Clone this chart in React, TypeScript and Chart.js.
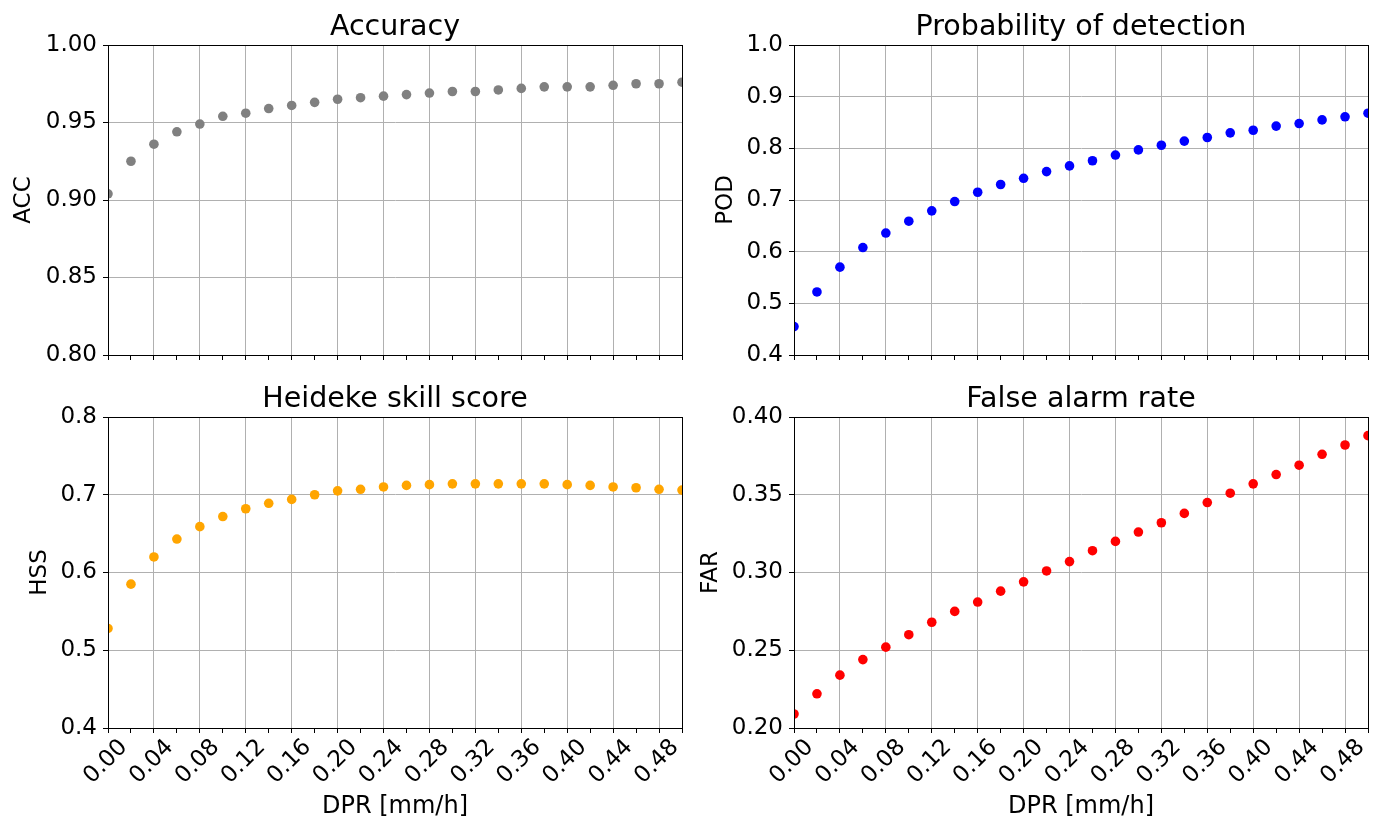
import React, { useEffect, useRef } from 'react';
import { Chart, registerables } from 'chart.js';

Chart.register(...registerables);

const FONT = "'DejaVu Sans', 'Liberation Sans', sans-serif";
Chart.defaults.font.family = FONT;

// ---- data ----
const dprValues = [
  0.0, 0.02, 0.04, 0.06, 0.08, 0.1, 0.12, 0.14, 0.16, 0.18, 0.2, 0.22, 0.24,
  0.26, 0.28, 0.3, 0.32, 0.34, 0.36, 0.38, 0.4, 0.42, 0.44, 0.46, 0.48, 0.5,
];
const accValues = [
  0.904, 0.925, 0.936, 0.944, 0.949, 0.954, 0.956, 0.959, 0.961, 0.963, 0.965,
  0.966, 0.967, 0.968, 0.969, 0.97, 0.97, 0.971, 0.972, 0.973, 0.973, 0.973,
  0.974, 0.975, 0.975, 0.976,
];
const podValues = [
  0.455, 0.522, 0.57, 0.608, 0.636, 0.659, 0.679, 0.697, 0.715, 0.73, 0.742,
  0.755, 0.766, 0.776, 0.787, 0.797, 0.806, 0.814, 0.821, 0.83, 0.835, 0.843,
  0.848, 0.855, 0.861, 0.868,
];
const hssValues = [
  0.528, 0.585, 0.62, 0.643, 0.659, 0.672, 0.682, 0.689, 0.694, 0.7, 0.705,
  0.707, 0.71, 0.712, 0.713, 0.714, 0.714, 0.714, 0.714, 0.714, 0.713, 0.712,
  0.71, 0.709, 0.707, 0.706,
];
const farValues = [
  0.209, 0.222, 0.234, 0.244, 0.252, 0.26, 0.268, 0.275, 0.281, 0.288, 0.294,
  0.301, 0.307, 0.314, 0.32, 0.326, 0.332, 0.338, 0.345, 0.351, 0.357, 0.363,
  0.369, 0.376, 0.382, 0.388,
];
const xTickLabels = [
  '0.00', '0.04', '0.08', '0.12', '0.16', '0.20', '0.24', '0.28', '0.32',
  '0.36', '0.40', '0.44', '0.48',
];
const accTicks = [0.8, 0.85, 0.9, 0.95, 1.0];
const podTicks = [0.4, 0.5, 0.6, 0.7, 0.8, 0.9, 1.0];
const hssTicks = [0.4, 0.5, 0.6, 0.7, 0.8];
const farTicks = [0.2, 0.25, 0.3, 0.35, 0.4];
const xLabel = 'DPR [mm/h]';

const GRID = '#b0b0b0';

type Panel = {
  title: string;
  yLabel: string;
  values: number[];
  color: string;
  yTicks: number[];
  decimals: number;
  showX: boolean;
  left: number;
  top: number;
  width: number;
  height: number;
  areaL: number;
  areaR: number;
  areaT: number;
  areaB: number;
  padLeft: number;
};

const panels: Panel[] = [
  {
    title: 'Accuracy', yLabel: 'ACC', values: accValues, color: '#808080',
    yTicks: accTicks, decimals: 2, showX: false,
    left: 0, top: 0, width: 690, height: 380,
    areaL: 108, areaR: 682, areaT: 45, areaB: 355, padLeft: 10,
  },
  {
    title: 'Probability of detection', yLabel: 'POD', values: podValues, color: '#0000ff',
    yTicks: podTicks, decimals: 1, showX: false,
    left: 690, top: 0, width: 690, height: 380,
    areaL: 104, areaR: 678, areaT: 45, areaB: 355, padLeft: 22,
  },
  {
    title: 'Heideke skill score', yLabel: 'HSS', values: hssValues, color: '#ffa500',
    yTicks: hssTicks, decimals: 1, showX: true,
    left: 0, top: 365, width: 690, height: 457,
    areaL: 108, areaR: 682, areaT: 52, areaB: 363, padLeft: 26,
  },
  {
    title: 'False alarm rate', yLabel: 'FAR', values: farValues, color: '#ff0000',
    yTicks: farTicks, decimals: 2, showX: true,
    left: 690, top: 365, width: 690, height: 457,
    areaL: 104, areaR: 678, areaT: 52, areaB: 363, padLeft: 7,
  },
];

function decorPlugin(title: string) {
  return {
    id: 'panelDecor',
    afterDatasetsDraw(chart: any) {
      const { ctx, chartArea: a } = chart;
      ctx.save();
      ctx.strokeStyle = '#000';
      ctx.lineWidth = 1;
      const l = Math.round(a.left) + 0.5;
      const t = Math.round(a.top) + 0.5;
      const r = Math.round(a.right) + 0.5;
      const b = Math.round(a.bottom) + 0.5;
      ctx.strokeRect(l, t, r - l, b - t);
      ctx.restore();
    },
    afterDraw(chart: any) {
      const { ctx, chartArea: a } = chart;
      ctx.save();
      ctx.font = `28.5px ${FONT}`;
      ctx.fillStyle = '#000';
      ctx.textAlign = 'center';
      ctx.textBaseline = 'alphabetic';
      ctx.fillText(title, (a.left + a.right) / 2, a.top - 10);
      ctx.restore();
    },
  };
}

function isMajorX(v: number) {
  return xTickLabels.includes(Number(v).toFixed(2));
}

function PanelChart({ p }: { p: Panel }) {
  const ref = useRef<HTMLCanvasElement | null>(null);
  useEffect(() => {
    if (!ref.current) return;
    const yMin = p.yTicks[0];
    const yMax = p.yTicks[p.yTicks.length - 1];
    const yStep = Math.round((p.yTicks[1] - p.yTicks[0]) * 1000) / 1000;
    const chart = new Chart(ref.current, {
      type: 'scatter',
      data: {
        datasets: [
          {
            data: dprValues.map((x, i) => ({ x, y: p.values[i] })),
            backgroundColor: p.color,
            borderColor: p.color,
            pointRadius: 4.8,
            pointBorderWidth: 0,
            pointHoverRadius: 4.8,
            clip: 0,
          } as any,
        ],
      },
      options: {
        animation: false,
        responsive: false,
        devicePixelRatio: 1,
        events: [],
        layout: {
          padding: {
            left: p.padLeft,
            right: p.width - p.areaR,
            top: p.areaT,
            bottom: 0,
          },
        },
        plugins: {
          legend: { display: false },
          tooltip: { enabled: false },
          title: { display: false },
        },
        scales: {
          x: {
            type: 'linear',
            min: 0,
            max: 0.5,
            afterFit: (s: any) => {
              s.height = p.height - p.areaB;
              s.paddingLeft = 0;
              s.paddingRight = 0;
              s.paddingTop = 0;
              s.paddingBottom = 0;
            },
            grid: {
              color: (c: any) => (c.tick && isMajorX(c.tick.value) ? GRID : 'rgba(0,0,0,0)'),
              lineWidth: 1,
              tickColor: '#000',
              tickLength: 5,
              drawTicks: true,
            },
            border: { display: true, color: '#000', width: 1 },
            ticks: {
              stepSize: 0.02,
              maxTicksLimit: 100,
              autoSkip: false,
              minRotation: p.showX ? 45 : 0,
              maxRotation: p.showX ? 45 : 0,
              padding: 1,
              labelOffset: 16,
              color: '#000',
              font: { size: 23, family: FONT },
              callback: (v: any) => {
                if (!p.showX) return '';
                const s = Number(v).toFixed(2);
                return xTickLabels.includes(s) ? s : '';
              },
            },
            title: {
              display: p.showX,
              text: xLabel,
              color: '#000',
              font: { size: 24, family: FONT, lineHeight: 1.2 },
              padding: { top: 0, bottom: 1 },
            },
          },
          y: {
            type: 'linear',
            min: yMin,
            max: yMax,
            afterFit: (s: any) => {
              s.width = p.areaL - p.padLeft;
              s.paddingLeft = 0;
              s.paddingRight = 0;
              s.paddingTop = 0;
              s.paddingBottom = 0;
            },
            grid: {
              color: GRID,
              lineWidth: 1,
              tickColor: '#000',
              tickLength: 5,
            },
            border: { display: true, color: '#000', width: 1 },
            ticks: {
              stepSize: yStep,
              autoSkip: false,
              padding: 6,
              color: '#000',
              font: { size: 23, family: FONT },
              callback: (v: any) => Number(v).toFixed(p.decimals),
            },
            title: {
              display: true,
              text: p.yLabel,
              color: '#000',
              font: { size: 23, family: FONT, lineHeight: 1.2 },
              padding: 0,
            },
          },
        },
      } as any,
      plugins: [decorPlugin(p.title)],
    });
    return () => chart.destroy();
  }, [p]);
  return (
    <div
      style={{
        position: 'absolute',
        left: p.left,
        top: p.top,
        width: p.width,
        height: p.height,
      }}
    >
      <canvas
        ref={ref}
        width={p.width}
        height={p.height}
        style={{ width: p.width, height: p.height, display: 'block' }}
      />
    </div>
  );
}

export default function App() {
  return (
    <div
      style={{
        position: 'absolute',
        left: 0,
        top: 0,
        width: 1380,
        height: 822,
        background: '#fff',
        overflow: 'hidden',
      }}
    >
      {panels.map((p) => (
        <PanelChart key={p.title} p={p} />
      ))}
    </div>
  );
}
